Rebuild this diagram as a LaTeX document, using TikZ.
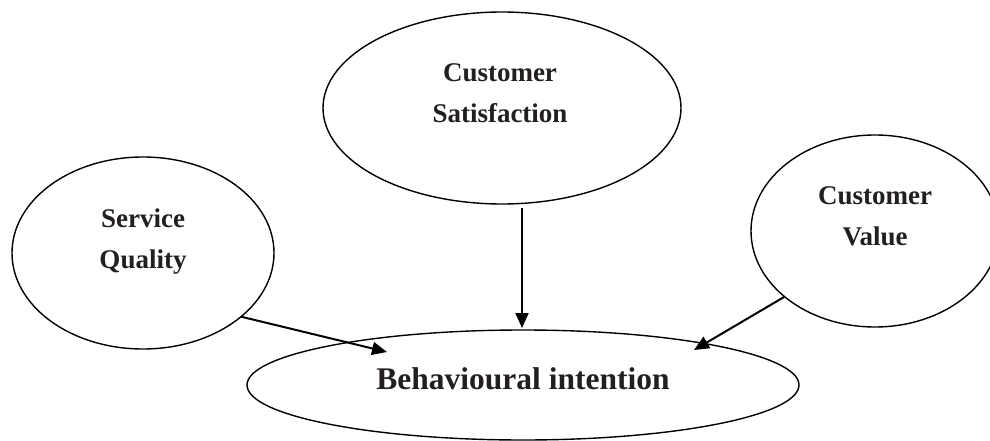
\documentclass[tikz,border=0pt]{standalone}
\usepackage{fontspec}
\setmainfont{Liberation Serif}
\usetikzlibrary{arrows.meta,shapes.geometric}
\definecolor{ink}{HTML}{231F20}
\begin{document}
\begin{tikzpicture}[x=1pt,y=-1pt,
  oval/.style={draw=black,line width=1.4pt,ellipse,inner sep=0pt,outer sep=0pt},
  lbl/.style={text=ink,align=center,inner sep=0pt,font=\bfseries\fontsize{27}{41}\selectfont},
  biglbl/.style={text=ink,inner sep=0pt,font=\bfseries\fontsize{31.5}{38}\selectfont},
  link/.style={draw=black,line width=2pt,-{Triangle[length=15pt,width=13pt]}}]
\useasboundingbox (0,0) rectangle (990,441);
\clip (0,0) rectangle (990,441);
% ellipses
\node[oval,minimum width=358pt,minimum height=192pt] (cs) at (502,108) {};
\node[oval,minimum width=262pt,minimum height=192pt] (sq) at (143,253) {};
\node[oval,minimum width=248pt,minimum height=192pt] (cv) at (875,231) {};
\node[oval,minimum width=552pt,minimum height=110pt] (bi) at (523,385) {};
% labels
\node[lbl] (cslbl) at (500,93.3) {Customer\\Satisfaction};
\node[lbl] (sqlbl) at (143,241.5) {Service\\Quality};
\node[lbl] (cvlbl) at (875,216.4) {Customer\\Value};
\node[biglbl,anchor=base] (bilbl) at (523,389) {Behavioural intention};
% arrow ends
\coordinate (t1) at (387,352);
\coordinate (s2) at (522,208);
\coordinate (t2) at (522,328);
\coordinate (t3) at (694,350);
\draw[link] (sq.-33.4) -- (t1);
\draw[link] (s2) -- (t2);
\draw[link] (cv.-144) -- (t3);
\end{tikzpicture}
\end{document}
